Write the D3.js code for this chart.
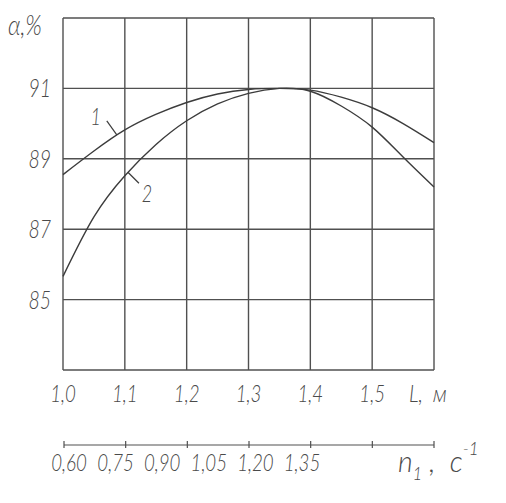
<!DOCTYPE html>
<html>
<head>
<meta charset="utf-8">
<script src="https://cdn.jsdelivr.net/npm/d3@7/dist/d3.min.js"></script>
<style>
  html, body { margin: 0; padding: 0; background: #fff; }
  text { font-family: Lato, "Open Sans", sans-serif; font-style: italic; font-weight: 300; fill: #4a4a4a; }
</style>
</head>
<body>
<div id="chart"></div>
<script>
// L, m — positions of the grid columns
var L_TICKS = [1.0, 1.1, 1.2, 1.3, 1.4, 1.5];
var L_TICK_LABELS = ["1,0", "1,1", "1,2", "1,3", "1,4", "1,5"];
// n1, s^-1 — second scale under the chart
var N_TICKS = [0.60, 0.75, 0.90, 1.05, 1.20, 1.35];
var N_TICK_LABELS = ["0,60", "0,75", "0,90", "1,05", "1,20", "1,35"];
// alpha, %
var ALPHA_TICKS = [85, 87, 89, 91];

var L_VALUES = [1.0, 1.05, 1.1, 1.15, 1.2, 1.25, 1.3, 1.35, 1.4, 1.45, 1.5, 1.55, 1.6];
var CURVE_1 = [88.55, 89.22, 89.82, 90.26, 90.6, 90.84, 90.97, 91.0, 90.95, 90.75, 90.45, 90.0, 89.46];
var CURVE_2 = [85.66, 87.35, 88.52, 89.4, 90.08, 90.56, 90.86, 91.0, 90.92, 90.5, 89.9, 89.05, 88.2];

var width = 506, height = 503;

var svg = d3.select("#chart").append("svg")
    .attr("width", width)
    .attr("height", height);

svg.append("rect").attr("width", width).attr("height", height).attr("fill", "#fff");

var x = d3.scaleLinear().domain([1.0, 1.6]).range([63, 434]);
var y = d3.scaleLinear().domain([83, 93]).range([370, 18]);
var n = d3.scaleLinear().domain([0.60, 1.50]).range([64, 434]);
// the hand-written n labels sit closer together than the ticks
var nLabel = d3.scaleLinear().domain([0.60, 1.35]).range([69, 302]);

var gridColor = "#505050";

// narrow hand-lettered look: squeeze text horizontally
function label(sel, px, py, size, sx) {
    return sel.append("text")
        .attr("transform", "translate(" + px + "," + py + ") scale(" + (sx || 0.78) + ",1)")
        .style("font-size", size + "px")
        .style("white-space", "pre");
}

// grid
var grid = svg.append("g").attr("stroke", gridColor).attr("stroke-width", 1.4).attr("fill", "none");
grid.selectAll(".v")
    .data(L_TICKS.concat([1.6]))
    .enter().append("line")
    .attr("x1", function (d) { return x(d); })
    .attr("x2", function (d) { return x(d); })
    .attr("y1", y(93))
    .attr("y2", y(83));
grid.selectAll(".h")
    .data(ALPHA_TICKS.concat([83, 93]))
    .enter().append("line")
    .attr("x1", x(1.0))
    .attr("x2", x(1.6))
    .attr("y1", function (d) { return y(d); })
    .attr("y2", function (d) { return y(d); });

// curves
var line = d3.line()
    .x(function (d) { return x(d[0]); })
    .y(function (d) { return y(d[1]); })
    .curve(d3.curveNatural);

var curves = [CURVE_1, CURVE_2].map(function (vals) {
    return svg.append("path")
        .datum(L_VALUES.map(function (l, i) { return [l, vals[i]]; }))
        .attr("d", line)
        .attr("fill", "none")
        .attr("stroke", "#3c3c3c")
        .attr("stroke-width", 1.4);
});

// point on a drawn curve at a given screen x
function pointAt(path, px) {
    var node = path.node(), lo = 0, hi = node.getTotalLength();
    for (var k = 0; k < 30; k++) {
        var mid = (lo + hi) / 2;
        if (node.getPointAtLength(mid).x < px) lo = mid; else hi = mid;
    }
    return node.getPointAtLength(lo);
}

// curve labels with leader lines
var p1 = pointAt(curves[0], x(1.087));
svg.append("line").attr("x1", p1.x).attr("y1", p1.y).attr("x2", p1.x - 10).attr("y2", p1.y - 14)
    .attr("stroke", "#3c3c3c").attr("stroke-width", 1.2);
label(svg, p1.x - 21, p1.y - 10, 23).attr("text-anchor", "middle").text("1");

var p2 = pointAt(curves[1], x(1.105));
svg.append("line").attr("x1", p2.x).attr("y1", p2.y).attr("x2", p2.x + 11).attr("y2", p2.y + 11)
    .attr("stroke", "#3c3c3c").attr("stroke-width", 1.2);
label(svg, p2.x + 19, p2.y + 30, 23).attr("text-anchor", "middle").text("2");

// y labels
ALPHA_TICKS.forEach(function (d) {
    label(svg, 51, y(d) + 9, 25).attr("text-anchor", "end").text(d);
});

label(svg, 8, 35, 27, 0.85).text("α,%");

// L labels
L_TICKS.forEach(function (d, i) {
    label(svg, x(d), 402, 24).attr("text-anchor", "middle").text(L_TICK_LABELS[i]);
});
label(svg, 409, 402, 24, 0.85).text("L,\u00a0\u00a0м");

// n axis
var nAxis = svg.append("g").attr("stroke", gridColor).attr("stroke-width", 1.2);
nAxis.append("line").attr("x1", n(0.60)).attr("x2", n(1.50)).attr("y1", 445).attr("y2", 445);
nAxis.selectAll(".tick")
    .data(N_TICKS.concat([1.50]))
    .enter().append("line")
    .attr("x1", function (d) { return n(d); })
    .attr("x2", function (d) { return n(d); })
    .attr("y1", 441)
    .attr("y2", 448);

N_TICKS.forEach(function (d, i) {
    label(svg, nLabel(d), 471, 24).attr("text-anchor", "middle").text(N_TICK_LABELS[i]);
});

var nt = label(svg, 398, 472, 30, 0.95);
nt.append("tspan").text("n");
nt.append("tspan").attr("dy", 8).style("font-size", "17px").text("1");
nt.append("tspan").attr("dy", -8).text("\u00a0,\u00a0\u00a0с");
nt.append("tspan").attr("dy", -17).style("font-size", "18px").text("-1");
</script>
</body>
</html>
